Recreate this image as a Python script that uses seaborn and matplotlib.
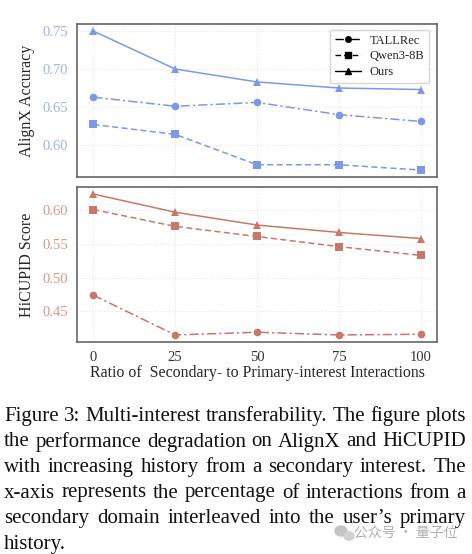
import pandas as pd
import numpy as np
import matplotlib
matplotlib.use("Agg")
import matplotlib.pyplot as plt
import seaborn as sns
from matplotlib.lines import Line2D
from matplotlib.patches import Ellipse

ratios = [0, 25, 50, 75, 100]
models = ["TALLRec", "Qwen3-8B", "Ours"]

alignx_tallrec = [0.663, 0.651, 0.656, 0.640, 0.631]
alignx_qwen = [0.627, 0.614, 0.574, 0.574, 0.567]
alignx_ours = [0.750, 0.700, 0.683, 0.675, 0.673]

hicupid_tallrec = [0.474, 0.415, 0.419, 0.415, 0.416]
hicupid_qwen = [0.601, 0.576, 0.561, 0.546, 0.533]
hicupid_ours = [0.624, 0.597, 0.578, 0.567, 0.558]

caption_lines = [
    "Figure 3: Multi-interest transferability. The figure plots",
    "the performance degradation on AlignX and HiCUPID",
    "with increasing history from a secondary interest. The",
    "x-axis represents the percentage of interactions from a",
    "secondary domain interleaved into the user\u2019s primary",
    "history.",
]

def long_form(a, b, c):
    rows = []
    for name, vals in zip(models, [a, b, c]):
        for r, v in zip(ratios, vals):
            rows.append({"ratio": r, "score": v, "model": name})
    return pd.DataFrame(rows)

df_top = long_form(alignx_tallrec, alignx_qwen, alignx_ours)
df_bot = long_form(hicupid_tallrec, hicupid_qwen, hicupid_ours)

sns.set_style("white")
plt.rcParams["font.family"] = ["Liberation Serif", "DejaVu Serif"]

blue = "#7f98e6"
blue_tick = "#9fb3ee"
red = "#c8776c"
red_tick = "#d8998f"

markers = {"TALLRec": "o", "Qwen3-8B": "s", "Ours": "^"}
dashes = {"TALLRec": (6, 2, 1.5, 2), "Qwen3-8B": (4, 2.2), "Ours": ""}

W, H = 472, 554
fig = plt.figure(figsize=(4.72, 5.54), dpi=100)
ax1 = fig.add_axes([0.163, 0.6805, 0.763, 0.276])
ax2 = fig.add_axes([0.163, 0.3827, 0.763, 0.2798])

for ax, df, col, tcol, ylab in [(ax1, df_top, blue, blue_tick, "AlignX Accuracy"),
                                (ax2, df_bot, red, red_tick, "HiCUPID Score")]:
    sns.lineplot(data=df, x="ratio", y="score", style="model", markers=markers,
                 dashes=dashes, color=col, linewidth=1.1, markersize=5.5,
                 markeredgewidth=0, ax=ax, legend=False)
    ax.set_xticks(ratios)
    ax.grid(True, color="#e6e6e6", linestyle=":", linewidth=0.8)
    for s in ax.spines.values():
        s.set_color("#666666")
        s.set_linewidth(1.2)
    ax.tick_params(axis="both", direction="out", length=3, width=0.8,
                   color="#666666", labelsize=10.5)
    ax.tick_params(axis="y", labelcolor=tcol)
    ax.set_ylabel(ylab, fontsize=11.5, labelpad=5)
    ax.set_xlabel("")

ax1.set_yticks([0.60, 0.65, 0.70, 0.75])
ax1.set_yticklabels(["0.60", "0.65", "0.70", "0.75"])
ax1.tick_params(axis="x", labelbottom=False)
ax2.set_yticks([0.45, 0.50, 0.55, 0.60])
ax2.set_yticklabels(["0.45", "0.50", "0.55", "0.60"])
ax2.tick_params(axis="x", labelcolor="#333333")
ax2.set_xlabel("Ratio of  Secondary- to Primary-interest Interactions", fontsize=11.4, labelpad=1)

handles = []
for m in models:
    h = Line2D([0], [0], color="black", marker=markers[m], markersize=4,
               linewidth=1.0, linestyle="-")
    if dashes[m]:
        h.set_dashes(dashes[m])
    handles.append(h)
leg = ax1.legend(handles, models, loc="upper right", fontsize=9, frameon=True,
                 fancybox=False, edgecolor="#cccccc", handlelength=2.1,
                 handletextpad=0.7, borderpad=0.4, labelspacing=0.3,
                 borderaxespad=0.2, bbox_to_anchor=(0.985, 0.98))

# justified caption
renderer = fig.canvas.get_renderer()
fs = 15
left, right = 4, 466
base0, step = 421, 25.5
for i, line in enumerate(caption_lines):
    words = line.split(" ")
    widths = []
    for w in words:
        t = fig.text(0, 0, w, fontsize=fs)
        widths.append(t.get_window_extent(renderer).width)
        t.remove()
    sp = fig.text(0, 0, "a b", fontsize=fs)
    sa = fig.text(0, 0, "ab", fontsize=fs)
    space_w = sp.get_window_extent(renderer).width - sa.get_window_extent(renderer).width
    sp.remove(); sa.remove()
    if i < len(caption_lines) - 1 and len(words) > 1:
        gap = (right - left - sum(widths)) / (len(words) - 1)
    else:
        gap = space_w
    x = left
    y = 1 - (base0 + i * step) / H
    for w, wd in zip(words, widths):
        fig.text(x / W, y, w, fontsize=fs, color="#111111", ha="left", va="baseline")
        x += wd + gap

# watermark
fig.add_artist(Ellipse((341 / W, 1 - 531 / H), 12 / W, 10 / H, color="#c4c4c4",
                       transform=fig.transFigure))
fig.add_artist(Ellipse((349 / W, 1 - 536 / H), 10 / W, 8.5 / H, color="#d2d2d2",
                       transform=fig.transFigure))
fig.text(457 / W, 1 - 534 / H, "\u516c\u4f17\u53f7 \u00b7 \u91cf\u5b50\u4f4d", fontsize=10,
         color="#b0b0b0", ha="right", va="center",
         family=["Noto Sans CJK SC", "DejaVu Sans"])

fig.savefig("out.png", dpi=100)
